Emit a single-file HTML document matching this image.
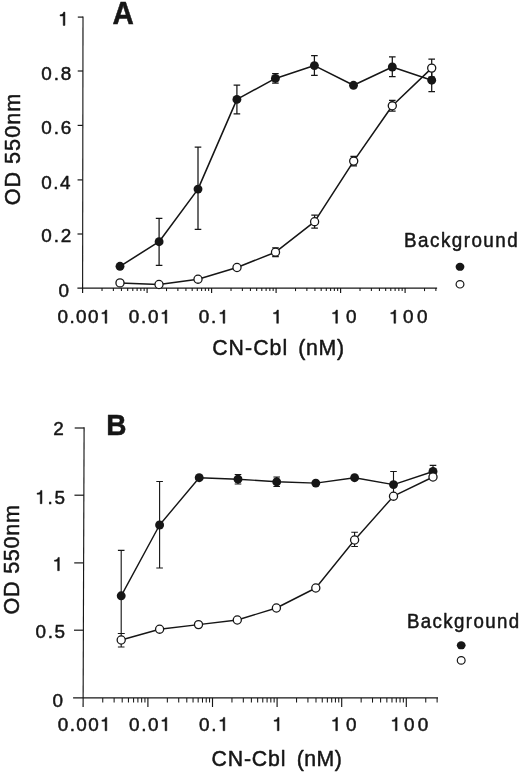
<!DOCTYPE html>
<html><head><meta charset="utf-8"><title>Figure</title>
<style>
html,body{margin:0;padding:0;background:#fff}svg{display:block}svg text{font-family:"Liberation Sans",sans-serif;fill:#161616;stroke:#161616;stroke-width:.5px;stroke-linejoin:round}
body{width:520px;height:776px;overflow:hidden}
</style></head><body>
<svg width="520" height="776" viewBox="0 0 520 776">
<rect width="520" height="776" fill="#fff"/>
<line x1="83" y1="16.5" x2="82.6" y2="293.1" stroke="#161616" stroke-width="1.15"/>
<line x1="77.4" y1="288.1" x2="437.1" y2="288.1" stroke="#161616" stroke-width="1.15"/>
<line x1="77.49" y1="234" x2="82.69" y2="234" stroke="#161616" stroke-width="1.2"/>
<line x1="77.56" y1="179.9" x2="82.76" y2="179.9" stroke="#161616" stroke-width="1.2"/>
<line x1="77.64" y1="125.4" x2="82.84" y2="125.4" stroke="#161616" stroke-width="1.2"/>
<line x1="77.72" y1="71" x2="82.92" y2="71" stroke="#161616" stroke-width="1.2"/>
<line x1="77.8" y1="17.1" x2="83" y2="17.1" stroke="#161616" stroke-width="1.2"/>
<line x1="102.02" y1="288.1" x2="102.02" y2="291.1" stroke="#161616" stroke-width="1.05"/>
<line x1="113.37" y1="288.1" x2="113.37" y2="291.1" stroke="#161616" stroke-width="1.05"/>
<line x1="121.43" y1="288.1" x2="121.43" y2="291.1" stroke="#161616" stroke-width="1.05"/>
<line x1="127.68" y1="288.1" x2="127.68" y2="291.1" stroke="#161616" stroke-width="1.05"/>
<line x1="132.79" y1="288.1" x2="132.79" y2="291.1" stroke="#161616" stroke-width="1.05"/>
<line x1="137.11" y1="288.1" x2="137.11" y2="291.1" stroke="#161616" stroke-width="1.05"/>
<line x1="140.85" y1="288.1" x2="140.85" y2="291.1" stroke="#161616" stroke-width="1.05"/>
<line x1="144.15" y1="288.1" x2="144.15" y2="291.1" stroke="#161616" stroke-width="1.05"/>
<line x1="147.1" y1="288.1" x2="147.1" y2="293.1" stroke="#161616" stroke-width="1.15"/>
<line x1="166.52" y1="288.1" x2="166.52" y2="291.1" stroke="#161616" stroke-width="1.05"/>
<line x1="177.87" y1="288.1" x2="177.87" y2="291.1" stroke="#161616" stroke-width="1.05"/>
<line x1="185.93" y1="288.1" x2="185.93" y2="291.1" stroke="#161616" stroke-width="1.05"/>
<line x1="192.18" y1="288.1" x2="192.18" y2="291.1" stroke="#161616" stroke-width="1.05"/>
<line x1="197.29" y1="288.1" x2="197.29" y2="291.1" stroke="#161616" stroke-width="1.05"/>
<line x1="201.61" y1="288.1" x2="201.61" y2="291.1" stroke="#161616" stroke-width="1.05"/>
<line x1="205.35" y1="288.1" x2="205.35" y2="291.1" stroke="#161616" stroke-width="1.05"/>
<line x1="208.65" y1="288.1" x2="208.65" y2="291.1" stroke="#161616" stroke-width="1.05"/>
<line x1="211.6" y1="288.1" x2="211.6" y2="293.1" stroke="#161616" stroke-width="1.15"/>
<line x1="231.02" y1="288.1" x2="231.02" y2="291.1" stroke="#161616" stroke-width="1.05"/>
<line x1="242.37" y1="288.1" x2="242.37" y2="291.1" stroke="#161616" stroke-width="1.05"/>
<line x1="250.43" y1="288.1" x2="250.43" y2="291.1" stroke="#161616" stroke-width="1.05"/>
<line x1="256.68" y1="288.1" x2="256.68" y2="291.1" stroke="#161616" stroke-width="1.05"/>
<line x1="261.79" y1="288.1" x2="261.79" y2="291.1" stroke="#161616" stroke-width="1.05"/>
<line x1="266.11" y1="288.1" x2="266.11" y2="291.1" stroke="#161616" stroke-width="1.05"/>
<line x1="269.85" y1="288.1" x2="269.85" y2="291.1" stroke="#161616" stroke-width="1.05"/>
<line x1="273.15" y1="288.1" x2="273.15" y2="291.1" stroke="#161616" stroke-width="1.05"/>
<line x1="276.1" y1="288.1" x2="276.1" y2="293.1" stroke="#161616" stroke-width="1.15"/>
<line x1="295.52" y1="288.1" x2="295.52" y2="291.1" stroke="#161616" stroke-width="1.05"/>
<line x1="306.87" y1="288.1" x2="306.87" y2="291.1" stroke="#161616" stroke-width="1.05"/>
<line x1="314.93" y1="288.1" x2="314.93" y2="291.1" stroke="#161616" stroke-width="1.05"/>
<line x1="321.18" y1="288.1" x2="321.18" y2="291.1" stroke="#161616" stroke-width="1.05"/>
<line x1="326.29" y1="288.1" x2="326.29" y2="291.1" stroke="#161616" stroke-width="1.05"/>
<line x1="330.61" y1="288.1" x2="330.61" y2="291.1" stroke="#161616" stroke-width="1.05"/>
<line x1="334.35" y1="288.1" x2="334.35" y2="291.1" stroke="#161616" stroke-width="1.05"/>
<line x1="337.65" y1="288.1" x2="337.65" y2="291.1" stroke="#161616" stroke-width="1.05"/>
<line x1="340.6" y1="288.1" x2="340.6" y2="293.1" stroke="#161616" stroke-width="1.15"/>
<line x1="360.02" y1="288.1" x2="360.02" y2="291.1" stroke="#161616" stroke-width="1.05"/>
<line x1="371.37" y1="288.1" x2="371.37" y2="291.1" stroke="#161616" stroke-width="1.05"/>
<line x1="379.43" y1="288.1" x2="379.43" y2="291.1" stroke="#161616" stroke-width="1.05"/>
<line x1="385.68" y1="288.1" x2="385.68" y2="291.1" stroke="#161616" stroke-width="1.05"/>
<line x1="390.79" y1="288.1" x2="390.79" y2="291.1" stroke="#161616" stroke-width="1.05"/>
<line x1="395.11" y1="288.1" x2="395.11" y2="291.1" stroke="#161616" stroke-width="1.05"/>
<line x1="398.85" y1="288.1" x2="398.85" y2="291.1" stroke="#161616" stroke-width="1.05"/>
<line x1="402.15" y1="288.1" x2="402.15" y2="291.1" stroke="#161616" stroke-width="1.05"/>
<line x1="405.1" y1="288.1" x2="405.1" y2="293.1" stroke="#161616" stroke-width="1.15"/>
<line x1="424.52" y1="288.1" x2="424.52" y2="291.1" stroke="#161616" stroke-width="1.05"/>
<line x1="435.87" y1="288.1" x2="435.87" y2="291.1" stroke="#161616" stroke-width="1.05"/>
<path d="M159.1 218.3V265.4M155.8 218.3h6.6M155.8 265.4h6.6" stroke="#161616" stroke-width="1.25" fill="none"/>
<path d="M198 147V229.4M194.7 147h6.6M194.7 229.4h6.6" stroke="#161616" stroke-width="1.25" fill="none"/>
<path d="M236.9 85.2V113.8M233.6 85.2h6.6M233.6 113.8h6.6" stroke="#161616" stroke-width="1.25" fill="none"/>
<path d="M275.4 73.6V83.1M272.1 73.6h6.6M272.1 83.1h6.6" stroke="#161616" stroke-width="1.25" fill="none"/>
<path d="M314.4 55.7V75.4M311.1 55.7h6.6M311.1 75.4h6.6" stroke="#161616" stroke-width="1.25" fill="none"/>
<path d="M392.3 56.8V76.5M389 56.8h6.6M389 76.5h6.6" stroke="#161616" stroke-width="1.25" fill="none"/>
<path d="M431.7 69V91.5M428.4 69h6.6M428.4 91.5h6.6" stroke="#161616" stroke-width="1.25" fill="none"/>
<polyline fill="none" stroke="#161616" stroke-width="1.55" stroke-linejoin="round" points="120,266.3 159.1,241.7 198,189.1 236.9,99.4 275.4,78.4 314.4,65.6 353.5,85.3 392.3,67 431.7,80.2"/>
<circle cx="120" cy="266.3" r="4.45" fill="#161616"/>
<circle cx="159.1" cy="241.7" r="4.45" fill="#161616"/>
<circle cx="198" cy="189.1" r="4.45" fill="#161616"/>
<circle cx="236.9" cy="99.4" r="4.45" fill="#161616"/>
<circle cx="275.4" cy="78.4" r="4.45" fill="#161616"/>
<circle cx="314.4" cy="65.6" r="4.45" fill="#161616"/>
<circle cx="353.5" cy="85.3" r="4.45" fill="#161616"/>
<circle cx="392.3" cy="67" r="4.45" fill="#161616"/>
<circle cx="431.7" cy="80.2" r="4.45" fill="#161616"/>
<path d="M275.5 247.8V256.5M272.2 247.8h6.6M272.2 256.5h6.6" stroke="#161616" stroke-width="1.25" fill="none"/>
<path d="M314.6 215.2V228.2M311.3 215.2h6.6M311.3 228.2h6.6" stroke="#161616" stroke-width="1.25" fill="none"/>
<path d="M353.7 156.4V165.8M350.4 156.4h6.6M350.4 165.8h6.6" stroke="#161616" stroke-width="1.25" fill="none"/>
<path d="M392.3 100.3V111.2M389 100.3h6.6M389 111.2h6.6" stroke="#161616" stroke-width="1.25" fill="none"/>
<path d="M431.7 59V77M428.4 59h6.6M428.4 77h6.6" stroke="#161616" stroke-width="1.25" fill="none"/>
<polyline fill="none" stroke="#161616" stroke-width="1.55" stroke-linejoin="round" points="120,282.9 159,284.5 198,279.2 237,267.5 275.5,252.2 314.6,221.7 353.7,161.1 392.3,105.8 431.7,68.1"/>
<circle cx="120" cy="282.9" r="4.05" fill="#fff" stroke="#161616" stroke-width="1.3"/>
<circle cx="159" cy="284.5" r="4.05" fill="#fff" stroke="#161616" stroke-width="1.3"/>
<circle cx="198" cy="279.2" r="4.05" fill="#fff" stroke="#161616" stroke-width="1.3"/>
<circle cx="237" cy="267.5" r="4.05" fill="#fff" stroke="#161616" stroke-width="1.3"/>
<circle cx="275.5" cy="252.2" r="4.05" fill="#fff" stroke="#161616" stroke-width="1.3"/>
<circle cx="314.6" cy="221.7" r="4.05" fill="#fff" stroke="#161616" stroke-width="1.3"/>
<circle cx="353.7" cy="161.1" r="4.05" fill="#fff" stroke="#161616" stroke-width="1.3"/>
<circle cx="392.3" cy="105.8" r="4.05" fill="#fff" stroke="#161616" stroke-width="1.3"/>
<circle cx="431.7" cy="68.1" r="4.05" fill="#fff" stroke="#161616" stroke-width="1.3"/>
<ellipse cx="460" cy="266.8" rx="4.4" ry="4" fill="#161616"/>
<ellipse cx="460" cy="284.3" rx="3.9" ry="3.7" fill="#fff" stroke="#161616" stroke-width="1.2"/>
<line x1="84.1" y1="427.3" x2="83.1" y2="707" stroke="#161616" stroke-width="1.15"/>
<line x1="73.1" y1="697.9" x2="438" y2="697.9" stroke="#161616" stroke-width="1.15"/>
<line x1="73.98" y1="630.2" x2="83.38" y2="630.2" stroke="#161616" stroke-width="1.2"/>
<line x1="74.22" y1="562.9" x2="83.62" y2="562.9" stroke="#161616" stroke-width="1.2"/>
<line x1="74.46" y1="495.2" x2="83.86" y2="495.2" stroke="#161616" stroke-width="1.2"/>
<line x1="74.7" y1="428" x2="84.1" y2="428" stroke="#161616" stroke-width="1.2"/>
<line x1="102.75" y1="697.9" x2="102.75" y2="702.6" stroke="#161616" stroke-width="1.05"/>
<line x1="114.12" y1="697.9" x2="114.12" y2="702.6" stroke="#161616" stroke-width="1.05"/>
<line x1="122.19" y1="697.9" x2="122.19" y2="702.6" stroke="#161616" stroke-width="1.05"/>
<line x1="128.45" y1="697.9" x2="128.45" y2="702.6" stroke="#161616" stroke-width="1.05"/>
<line x1="133.57" y1="697.9" x2="133.57" y2="702.6" stroke="#161616" stroke-width="1.05"/>
<line x1="137.89" y1="697.9" x2="137.89" y2="702.6" stroke="#161616" stroke-width="1.05"/>
<line x1="141.64" y1="697.9" x2="141.64" y2="702.6" stroke="#161616" stroke-width="1.05"/>
<line x1="144.94" y1="697.9" x2="144.94" y2="702.6" stroke="#161616" stroke-width="1.05"/>
<line x1="147.9" y1="697.9" x2="147.9" y2="707" stroke="#161616" stroke-width="1.15"/>
<line x1="167.35" y1="697.9" x2="167.35" y2="702.6" stroke="#161616" stroke-width="1.05"/>
<line x1="178.72" y1="697.9" x2="178.72" y2="702.6" stroke="#161616" stroke-width="1.05"/>
<line x1="186.79" y1="697.9" x2="186.79" y2="702.6" stroke="#161616" stroke-width="1.05"/>
<line x1="193.05" y1="697.9" x2="193.05" y2="702.6" stroke="#161616" stroke-width="1.05"/>
<line x1="198.17" y1="697.9" x2="198.17" y2="702.6" stroke="#161616" stroke-width="1.05"/>
<line x1="202.49" y1="697.9" x2="202.49" y2="702.6" stroke="#161616" stroke-width="1.05"/>
<line x1="206.24" y1="697.9" x2="206.24" y2="702.6" stroke="#161616" stroke-width="1.05"/>
<line x1="209.54" y1="697.9" x2="209.54" y2="702.6" stroke="#161616" stroke-width="1.05"/>
<line x1="212.5" y1="697.9" x2="212.5" y2="707" stroke="#161616" stroke-width="1.15"/>
<line x1="231.95" y1="697.9" x2="231.95" y2="702.6" stroke="#161616" stroke-width="1.05"/>
<line x1="243.32" y1="697.9" x2="243.32" y2="702.6" stroke="#161616" stroke-width="1.05"/>
<line x1="251.39" y1="697.9" x2="251.39" y2="702.6" stroke="#161616" stroke-width="1.05"/>
<line x1="257.65" y1="697.9" x2="257.65" y2="702.6" stroke="#161616" stroke-width="1.05"/>
<line x1="262.77" y1="697.9" x2="262.77" y2="702.6" stroke="#161616" stroke-width="1.05"/>
<line x1="267.09" y1="697.9" x2="267.09" y2="702.6" stroke="#161616" stroke-width="1.05"/>
<line x1="270.84" y1="697.9" x2="270.84" y2="702.6" stroke="#161616" stroke-width="1.05"/>
<line x1="274.14" y1="697.9" x2="274.14" y2="702.6" stroke="#161616" stroke-width="1.05"/>
<line x1="277.1" y1="697.9" x2="277.1" y2="707" stroke="#161616" stroke-width="1.15"/>
<line x1="296.55" y1="697.9" x2="296.55" y2="702.6" stroke="#161616" stroke-width="1.05"/>
<line x1="307.92" y1="697.9" x2="307.92" y2="702.6" stroke="#161616" stroke-width="1.05"/>
<line x1="315.99" y1="697.9" x2="315.99" y2="702.6" stroke="#161616" stroke-width="1.05"/>
<line x1="322.25" y1="697.9" x2="322.25" y2="702.6" stroke="#161616" stroke-width="1.05"/>
<line x1="327.37" y1="697.9" x2="327.37" y2="702.6" stroke="#161616" stroke-width="1.05"/>
<line x1="331.69" y1="697.9" x2="331.69" y2="702.6" stroke="#161616" stroke-width="1.05"/>
<line x1="335.44" y1="697.9" x2="335.44" y2="702.6" stroke="#161616" stroke-width="1.05"/>
<line x1="338.74" y1="697.9" x2="338.74" y2="702.6" stroke="#161616" stroke-width="1.05"/>
<line x1="341.7" y1="697.9" x2="341.7" y2="707" stroke="#161616" stroke-width="1.15"/>
<line x1="361.15" y1="697.9" x2="361.15" y2="702.6" stroke="#161616" stroke-width="1.05"/>
<line x1="372.52" y1="697.9" x2="372.52" y2="702.6" stroke="#161616" stroke-width="1.05"/>
<line x1="380.59" y1="697.9" x2="380.59" y2="702.6" stroke="#161616" stroke-width="1.05"/>
<line x1="386.85" y1="697.9" x2="386.85" y2="702.6" stroke="#161616" stroke-width="1.05"/>
<line x1="391.97" y1="697.9" x2="391.97" y2="702.6" stroke="#161616" stroke-width="1.05"/>
<line x1="396.29" y1="697.9" x2="396.29" y2="702.6" stroke="#161616" stroke-width="1.05"/>
<line x1="400.04" y1="697.9" x2="400.04" y2="702.6" stroke="#161616" stroke-width="1.05"/>
<line x1="403.34" y1="697.9" x2="403.34" y2="702.6" stroke="#161616" stroke-width="1.05"/>
<line x1="406.3" y1="697.9" x2="406.3" y2="707" stroke="#161616" stroke-width="1.15"/>
<line x1="425.75" y1="697.9" x2="425.75" y2="702.6" stroke="#161616" stroke-width="1.05"/>
<line x1="437.12" y1="697.9" x2="437.12" y2="702.6" stroke="#161616" stroke-width="1.05"/>
<path d="M121.2 550.4V633.5M117.9 550.4h6.6M117.9 633.5h6.6" stroke="#161616" stroke-width="1.12" fill="none"/>
<path d="M159.6 481.5V568M156.3 481.5h6.6M156.3 568h6.6" stroke="#161616" stroke-width="1.12" fill="none"/>
<path d="M238 474.5V484M234.7 474.5h6.6M234.7 484h6.6" stroke="#161616" stroke-width="1.12" fill="none"/>
<path d="M276.7 477V486.5M273.4 477h6.6M273.4 486.5h6.6" stroke="#161616" stroke-width="1.12" fill="none"/>
<path d="M393.5 471.5V497M390.2 471.5h6.6M390.2 497h6.6" stroke="#161616" stroke-width="1.12" fill="none"/>
<path d="M433 465.4V477.5M429.7 465.4h6.6M429.7 477.5h6.6" stroke="#161616" stroke-width="1.12" fill="none"/>
<polyline fill="none" stroke="#161616" stroke-width="1.42" stroke-linejoin="round" points="121.2,595.8 159.6,525 199.2,477.7 238,479.2 276.7,481.8 315.8,483.1 354.6,477.7 393.5,484.6 433,471.5"/>
<circle cx="121.2" cy="595.8" r="4.45" fill="#161616"/>
<circle cx="159.6" cy="525" r="4.45" fill="#161616"/>
<circle cx="199.2" cy="477.7" r="4.45" fill="#161616"/>
<circle cx="238" cy="479.2" r="4.45" fill="#161616"/>
<circle cx="276.7" cy="481.8" r="4.45" fill="#161616"/>
<circle cx="315.8" cy="483.1" r="4.45" fill="#161616"/>
<circle cx="354.6" cy="477.7" r="4.45" fill="#161616"/>
<circle cx="393.5" cy="484.6" r="4.45" fill="#161616"/>
<circle cx="433" cy="471.5" r="4.45" fill="#161616"/>
<path d="M121.2 633.5V647M117.9 633.5h6.6M117.9 647h6.6" stroke="#161616" stroke-width="1.12" fill="none"/>
<path d="M354.6 532.3V546.5M351.3 532.3h6.6M351.3 546.5h6.6" stroke="#161616" stroke-width="1.12" fill="none"/>
<polyline fill="none" stroke="#161616" stroke-width="1.42" stroke-linejoin="round" points="121.2,640 159.6,629.2 198.5,624.6 237.3,620 276.4,608 315.8,588 354.6,540 393.5,496.2 433,477"/>
<circle cx="121.2" cy="640" r="4.05" fill="#fff" stroke="#161616" stroke-width="1.3"/>
<circle cx="159.6" cy="629.2" r="4.05" fill="#fff" stroke="#161616" stroke-width="1.3"/>
<circle cx="198.5" cy="624.6" r="4.05" fill="#fff" stroke="#161616" stroke-width="1.3"/>
<circle cx="237.3" cy="620" r="4.05" fill="#fff" stroke="#161616" stroke-width="1.3"/>
<circle cx="276.4" cy="608" r="4.05" fill="#fff" stroke="#161616" stroke-width="1.3"/>
<circle cx="315.8" cy="588" r="4.05" fill="#fff" stroke="#161616" stroke-width="1.3"/>
<circle cx="354.6" cy="540" r="4.05" fill="#fff" stroke="#161616" stroke-width="1.3"/>
<circle cx="393.5" cy="496.2" r="4.05" fill="#fff" stroke="#161616" stroke-width="1.3"/>
<circle cx="433" cy="477" r="4.05" fill="#fff" stroke="#161616" stroke-width="1.3"/>
<ellipse cx="461.2" cy="645.3" rx="4.4" ry="4" fill="#161616"/>
<ellipse cx="461.2" cy="660.4" rx="3.9" ry="3.7" fill="#fff" stroke="#161616" stroke-width="1.2"/>
<g opacity="0.999">
<path fill="#161616" stroke="#161616" stroke-width=".5" stroke-linejoin="round" d="M64.94 25.4L63.22 25.4L63.22 15.95L60.06 15.95L60.06 14.78C61.84 14.7 63.29 14.21 63.67 12.11L64.94 12.11Z"/>
<text x="41.36 53.67 60.71" y="80.4" font-size="18.9">0.8</text>
<text x="41.36 53.67 60.72" y="133.9" font-size="18.9">0.6</text>
<text x="41.36 53.28 59.94" y="189.1" font-size="18.9">0.4</text>
<text x="41.36 53.73 60.84" y="242" font-size="18.9">0.2</text>
<text x="58.49" y="297.2" font-size="18.9">0</text>
<path fill="#161616" stroke="#161616" stroke-width=".5" stroke-linejoin="round" d="M106.8 323.3L105.08 323.3L105.08 313.85L101.93 313.85L101.93 312.68C103.7 312.6 105.16 312.11 105.54 310.01L106.8 310.01Z"/>
<text x="57.46 69.42 76.11 88.06" y="323.3" font-size="18.9">0.00</text>
<path fill="#161616" stroke="#161616" stroke-width=".5" stroke-linejoin="round" d="M166.8 323.3L165.08 323.3L165.08 313.85L161.93 313.85L161.93 312.68C163.7 312.6 165.16 312.11 165.54 310.01L166.8 310.01Z"/>
<text x="128.86 141 147.88" y="323.3" font-size="18.9">0.0</text>
<path fill="#161616" stroke="#161616" stroke-width=".5" stroke-linejoin="round" d="M224.8 323.3L223.08 323.3L223.08 313.85L219.93 313.85L219.93 312.68C221.7 312.6 223.16 312.11 223.54 310.01L224.8 310.01Z"/>
<text x="198.86 211.07" y="323.3" font-size="18.9">0.</text>
<path fill="#161616" stroke="#161616" stroke-width=".5" stroke-linejoin="round" d="M278.44 323.3L276.72 323.3L276.72 313.85L273.56 313.85L273.56 312.68C275.34 312.6 276.79 312.11 277.17 310.01L278.44 310.01Z"/>
<path fill="#161616" stroke="#161616" stroke-width=".5" stroke-linejoin="round" d="M337.47 323.3L335.75 323.3L335.75 313.85L332.6 313.85L332.6 312.68C334.38 312.6 335.83 312.11 336.21 310.01L337.47 310.01Z"/>
<text x="346.03" y="323.3" font-size="18.9">0</text>
<path fill="#161616" stroke="#161616" stroke-width=".5" stroke-linejoin="round" d="M395.67 323.3L393.95 323.3L393.95 313.85L390.8 313.85L390.8 312.68C392.58 312.6 394.03 312.11 394.41 310.01L395.67 310.01Z"/>
<text x="402.96 417.03" y="323.3" font-size="18.9">00</text>
<text transform="translate(212.15,355.3) scale(0.950,1)" font-size="22.4" font-weight="normal" letter-spacing="1.13">CN-Cbl</text>
<text transform="translate(298.35,355.3) scale(0.950,1)" font-size="22.4" font-weight="normal" letter-spacing="0.67">(nM)</text>
<text transform="translate(20,205.35) rotate(-90) scale(0.950,1)" font-size="22.8" font-weight="normal" letter-spacing="1.04">OD 550nm</text>
<text transform="translate(112.44,24.1) scale(0.957,1)" font-size="30.9" font-weight="bold">A</text>
<text transform="translate(404.08,246.6) scale(0.920,1)" font-size="20.5" font-weight="normal" letter-spacing="1.57">Background</text>
<text x="53.14" y="435.4" font-size="18.9">2</text>
<path fill="#161616" stroke="#161616" stroke-width=".5" stroke-linejoin="round" d="M41.97 503.7L40.25 503.7L40.25 494.25L37.1 494.25L37.1 493.08C38.88 493 40.33 492.51 40.71 490.41L41.97 490.41Z"/>
<text x="47.47 54.48" y="503.7" font-size="18.9">.5</text>
<path fill="#161616" stroke="#161616" stroke-width=".5" stroke-linejoin="round" d="M59.34 570.7L57.62 570.7L57.62 561.25L54.46 561.25L54.46 560.08C56.24 560 57.69 559.51 58.07 557.41L59.34 557.41Z"/>
<text x="35.56 47.65 54.48" y="637.8" font-size="18.9">0.5</text>
<text x="52.39" y="707" font-size="18.9">0</text>
<path fill="#161616" stroke="#161616" stroke-width=".5" stroke-linejoin="round" d="M106.8 730.7L105.08 730.7L105.08 721.25L101.93 721.25L101.93 720.08C103.7 720 105.16 719.51 105.54 717.41L106.8 717.41Z"/>
<text x="57.86 69.72 76.31 88.16" y="730.7" font-size="18.9">0.00</text>
<path fill="#161616" stroke="#161616" stroke-width=".5" stroke-linejoin="round" d="M166.8 730.7L165.08 730.7L165.08 721.25L161.93 721.25L161.93 720.08C163.7 720 165.16 719.51 165.54 717.41L166.8 717.41Z"/>
<text x="129.06 141.13 147.95" y="730.7" font-size="18.9">0.0</text>
<path fill="#161616" stroke="#161616" stroke-width=".5" stroke-linejoin="round" d="M224.8 730.7L223.08 730.7L223.08 721.25L219.93 721.25L219.93 720.08C221.7 720 223.16 719.51 223.54 717.41L224.8 717.41Z"/>
<text x="199.06 211.17" y="730.7" font-size="18.9">0.</text>
<path fill="#161616" stroke="#161616" stroke-width=".5" stroke-linejoin="round" d="M279.04 730.7L277.32 730.7L277.32 721.25L274.16 721.25L274.16 720.08C275.94 720 277.39 719.51 277.77 717.41L279.04 717.41Z"/>
<path fill="#161616" stroke="#161616" stroke-width=".5" stroke-linejoin="round" d="M337.47 730.7L335.75 730.7L335.75 721.25L332.6 721.25L332.6 720.08C334.38 720 335.83 719.51 336.21 717.41L337.47 717.41Z"/>
<text x="346.03" y="730.7" font-size="18.9">0</text>
<path fill="#161616" stroke="#161616" stroke-width=".5" stroke-linejoin="round" d="M397.07 730.7L395.35 730.7L395.35 721.25L392.2 721.25L392.2 720.08C393.98 720 395.43 719.51 395.81 717.41L397.07 717.41Z"/>
<text x="403.96 417.63" y="730.7" font-size="18.9">00</text>
<text transform="translate(211.45,765.7) scale(0.950,1)" font-size="22.4" font-weight="normal" letter-spacing="0.92">CN-Cbl</text>
<text transform="translate(296.65,765.7) scale(0.950,1)" font-size="22.4" font-weight="normal" letter-spacing="0.56">(nM)</text>
<text transform="translate(18.6,614.45) rotate(-90) scale(0.950,1)" font-size="22.8" font-weight="normal" letter-spacing="0.74">OD 550nm</text>
<text transform="translate(106.16,435.4) scale(0.921,1)" font-size="30.4" font-weight="bold">B</text>
<text transform="translate(406.97,627.6) scale(0.930,1)" font-size="20.1" font-weight="normal" letter-spacing="1.49">Background</text>
</g>
</svg>
</body></html>
